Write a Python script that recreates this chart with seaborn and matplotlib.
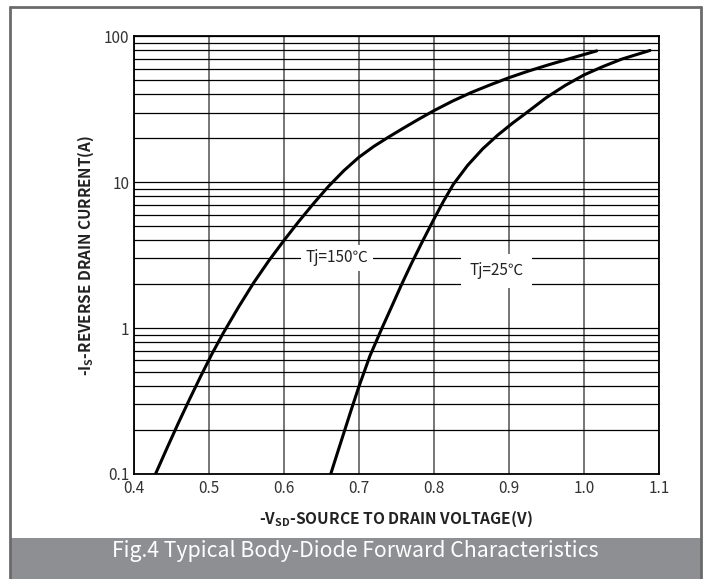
import matplotlib
matplotlib.use("Agg")
import matplotlib.pyplot as plt
import matplotlib.ticker as mticker
from matplotlib.patches import Rectangle
from matplotlib.lines import Line2D
import numpy as np
import pandas as pd
import seaborn as sns

# ---- data ----
v_150 = [0.4293, 0.445, 0.460, 0.475, 0.490, 0.505, 0.520, 0.540, 0.560, 0.580,
         0.600, 0.620, 0.640, 0.660, 0.680, 0.700, 0.720, 0.740, 0.760, 0.780,
         0.800, 0.825, 0.850, 0.875, 0.900, 0.925, 0.950, 0.975, 1.000, 1.017]
i_150 = [0.1, 0.152, 0.225, 0.328, 0.473, 0.673, 0.933, 1.396, 2.042, 2.884,
         3.963, 5.37, 7.161, 9.397, 11.97, 14.79, 17.58, 20.42, 23.55, 27.04,
         30.90, 35.97, 41.21, 46.45, 52.00, 57.54, 63.10, 68.87, 74.99, 79.43]

v_25 = [0.6627, 0.675, 0.690, 0.700, 0.715, 0.731, 0.745, 0.757, 0.770, 0.785,
        0.800, 0.813, 0.826, 0.845, 0.865, 0.885, 0.905, 0.925, 0.950, 0.975,
        1.000, 1.025, 1.050, 1.088]
i_25 = [0.1, 0.158, 0.275, 0.394, 0.646, 1.0, 1.445, 1.986, 2.754, 3.936,
        5.559, 7.413, 9.661, 13.03, 16.90, 20.99, 25.41, 30.34, 38.02, 46.03,
        54.33, 61.94, 69.66, 79.98]

series_labels = ["Tj=150\u2103", "Tj=25\u2103"]
x_ticks = [0.4, 0.5, 0.6, 0.7, 0.8, 0.9, 1.0, 1.1]
x_tick_labels = ["0.4", "0.5", "0.6", "0.7", "0.8", "0.9", "1.0", "1.1"]
y_ticks = [0.1, 1, 10, 100]
y_tick_labels = ["0.1", "1", "10", "100"]
x_label = r"-V$_{\mathbf{SD}}$-SOURCE TO DRAIN VOLTAGE(V)"
y_label = r"-I$_{\mathbf{S}}$-REVERSE DRAIN CURRENT(A)"
caption = "Fig.4 Typical Body-Diode Forward Characteristics"

df = pd.concat([
    pd.DataFrame({"V": v_150, "I": i_150, "series": series_labels[0]}),
    pd.DataFrame({"V": v_25, "I": i_25, "series": series_labels[1]}),
], ignore_index=True)

sns.set_style("white")
plt.rcParams["font.family"] = ["Noto Sans CJK SC", "DejaVu Sans"]
plt.rcParams["mathtext.fontset"] = "custom"
plt.rcParams["mathtext.rm"] = "Noto Sans CJK SC"
plt.rcParams["mathtext.bf"] = "Noto Sans CJK SC:bold"

W, H = 710, 579
fig = plt.figure(figsize=(W / 100, H / 100), dpi=100)


def fx(px):
    return px / W


def fy(py):
    return 1 - py / H


# outer frame and caption band
band = Rectangle((fx(10), 0), fx(701) - fx(10), fy(538), transform=fig.transFigure,
                 facecolor="#8e8f93", edgecolor="none", zorder=0)
fig.patches.append(band)
frame_kw = dict(transform=fig.transFigure, color="#6b6b6b", lw=2.0, zorder=1)
fig.lines.append(Line2D([fx(9.5), fx(9.5)], [0, fy(6.5)], **frame_kw))
fig.lines.append(Line2D([fx(701), fx(701)], [0, fy(6.5)], **frame_kw))
fig.lines.append(Line2D([fx(9.5), fx(701)], [fy(6.5), fy(6.5)], **frame_kw))

ax = fig.add_axes([fx(133.5), fy(474), fx(659) - fx(133.5), fy(36.3) - fy(474)])

sns.lineplot(data=df, x="V", y="I", hue="series", units="series", estimator=None,
             sort=False, palette=["black", "black"], linewidth=2.2, legend=False,
             ax=ax, zorder=5)

ax.set_yscale("log")
ax.set_xlim(0.4, 1.1)
ax.set_ylim(0.1, 100)

ax.xaxis.set_major_locator(mticker.FixedLocator(x_ticks))
ax.xaxis.set_major_formatter(mticker.FixedFormatter(x_tick_labels))
ax.yaxis.set_major_locator(mticker.FixedLocator(y_ticks))
ax.yaxis.set_major_formatter(mticker.FixedFormatter(y_tick_labels))
ax.yaxis.set_minor_locator(mticker.LogLocator(base=10, subs=np.arange(2, 10)))
ax.yaxis.set_minor_formatter(mticker.NullFormatter())

ax.grid(False)
ax.xaxis.grid(True, which="major", color="#5f5f5f", linewidth=1.2)
ax.yaxis.grid(True, which="both", color="black", linewidth=0.9)
ax.set_axisbelow(True)

ax.tick_params(axis="both", which="both", length=0, labelsize=11, labelcolor="#333333")
ax.tick_params(axis="x", pad=4)
ax.tick_params(axis="y", pad=3)

for s in ax.spines.values():
    s.set_visible(True)
    s.set_color("black")
    s.set_linewidth(1.3)

ax.set_xlabel(x_label, fontsize=11.2, fontweight="bold", color="#222222", labelpad=9)
ax.set_ylabel(y_label, fontsize=11, fontweight="bold", color="#222222", labelpad=6)

ax.text(0.6707, 3.03, series_labels[0], fontsize=11, color="#222222", ha="center",
        va="center", zorder=4,
        bbox=dict(boxstyle="square,pad=0.3", fc="white", ec="none"))
ax.text(0.884, 2.47, series_labels[1], fontsize=11, color="#222222", ha="center",
        va="center", zorder=4,
        bbox=dict(boxstyle="square,pad=0.55", fc="white", ec="none"))

fig.text(fx(355.5), fy(551), caption, fontsize=15.3, color="white", ha="center", va="center")

fig.savefig("out.png", dpi=100)
